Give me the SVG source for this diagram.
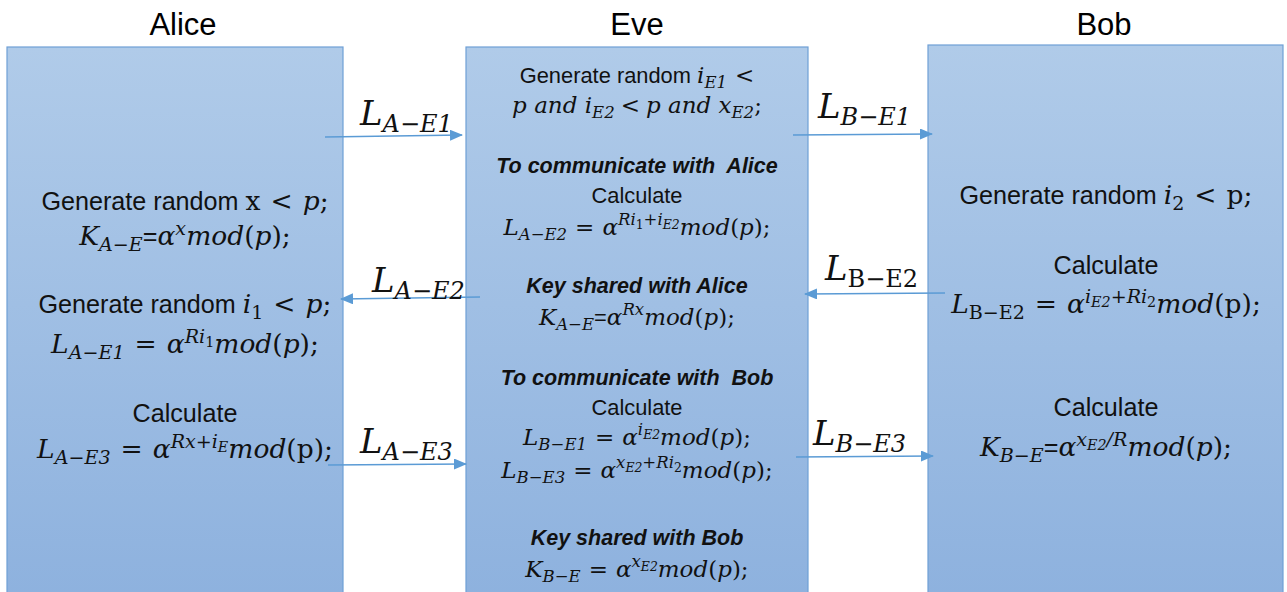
<svg xmlns="http://www.w3.org/2000/svg" width="1287" height="592" viewBox="0 0 1287 592">
<defs>
<linearGradient id="g" x1="0" y1="0" x2="0" y2="1">
<stop offset="0" stop-color="#b0cbe9"/>
<stop offset="1" stop-color="#8db1de"/>
</linearGradient>
<marker id="ah" markerUnits="userSpaceOnUse" markerWidth="13" markerHeight="11" refX="12" refY="5.5" orient="auto">
<path d="M0,0 L13,5.5 L0,11 Z" fill="#5b9bd5"/>
</marker>
<style>
.box{fill:url(#g);stroke:#6fa0d6;stroke-width:1.2}
.hd{font-family:"Liberation Sans",Arial,sans-serif;font-size:31px;fill:#000;text-anchor:middle}
.c{text-anchor:middle;fill:#111}
.big .c{font-size:26.5px}
.mid .c{font-size:23px}
.sn{font-family:"Liberation Sans",Arial,sans-serif;font-size:.95em;font-style:normal;font-weight:normal}
.bi{font-family:"Liberation Sans",Arial,sans-serif;font-style:italic;font-weight:bold}
.mid .bi{font-size:21.5px}
.r{font-family:"DejaVu Serif","Liberation Serif",serif;font-style:normal}
.i{font-family:"DejaVu Serif","Liberation Serif",serif;font-style:italic}
.sb{font-size:.72em}
.ss{font-size:.54em}
.lb{fill:#111}
.L{font-family:"DejaVu Serif","Liberation Serif",serif;font-size:34px;font-style:italic}
.Ls{font-family:"DejaVu Serif","Liberation Serif",serif;font-size:24px;font-style:italic}
.Lu{font-family:"DejaVu Serif","Liberation Serif",serif;font-size:24px;font-style:normal}
.cn{stroke:#5b9bd5;stroke-width:1.5;fill:none;marker-end:url(#ah)}
</style>
</defs>

<g id="alice" class="big">
<text class="hd" x="183" y="35">Alice</text>
<rect class="box" x="7" y="47" width="336" height="560"/>
<text class="c" x="185" y="210"><tspan class="sn">Generate random </tspan><tspan class="r">x</tspan><tspan class="r" dx="10">&lt;</tspan><tspan class="i" dx="10">p</tspan><tspan class="r">;</tspan></text>
<text class="c" x="185" y="245"><tspan class="i">K</tspan><tspan class="i sb" dy="6">A−E</tspan><tspan class="sn" dy="-6">=</tspan><tspan class="i">α</tspan><tspan class="i sb" dy="-10">x</tspan><tspan class="i" dy="10">mod</tspan><tspan class="r">(</tspan><tspan class="i">p</tspan><tspan class="r">);</tspan></text>
<text class="c" x="185" y="313"><tspan class="sn">Generate random </tspan><tspan class="i">i</tspan><tspan class="r sb" dy="6">1</tspan><tspan class="r" dx="10" dy="-6">&lt;</tspan><tspan class="i" dx="10">p</tspan><tspan class="r">;</tspan></text>
<text class="c" x="185" y="353"><tspan class="i">L</tspan><tspan class="i sb" dy="6">A−E1</tspan><tspan class="r" dx="10" dy="-6">=</tspan><tspan class="i" dx="10">α</tspan><tspan class="i sb" dy="-10">Ri</tspan><tspan class="r ss" dy="4">1</tspan><tspan class="i" dy="6">mod</tspan><tspan class="r">(</tspan><tspan class="i">p</tspan><tspan class="r">);</tspan></text>
<text class="c" x="185" y="422"><tspan class="sn">Calculate</tspan></text>
<text class="c" x="185" y="458"><tspan class="i">L</tspan><tspan class="i sb" dy="6">A−E3</tspan><tspan class="r" dx="10" dy="-6">=</tspan><tspan class="i" dx="10">α</tspan><tspan class="i sb" dy="-10">Rx+i</tspan><tspan class="i ss" dy="4">E</tspan><tspan class="i" dy="6">mod</tspan><tspan class="r">(p);</tspan></text>
</g>

<g id="eve" class="mid">
<text class="hd" x="637" y="35">Eve</text>
<rect class="box" x="466" y="47" width="342" height="560"/>
<text class="c" x="637" y="83"><tspan class="sn">Generate random </tspan><tspan class="i">i</tspan><tspan class="i sb" dy="5">E1</tspan><tspan class="r" dx="8" dy="-5">&lt;</tspan></text>
<text class="c" x="637" y="113"><tspan class="i">p and i</tspan><tspan class="i sb" dy="5">E2</tspan><tspan class="r" dx="6" dy="-5">&lt;</tspan><tspan class="i" dx="6">p and x</tspan><tspan class="i sb" dy="5">E2</tspan><tspan class="r" dy="-5">;</tspan></text>
<text class="c bi" x="637" y="173" xml:space="preserve">To communicate with  Alice</text>
<text class="c" x="637" y="203"><tspan class="sn">Calculate</tspan></text>
<text class="c" x="637" y="235"><tspan class="i">L</tspan><tspan class="i sb" dy="5">A−E2</tspan><tspan class="r" dx="8" dy="-5">=</tspan><tspan class="i" dx="8">α</tspan><tspan class="i sb" dy="-10">Ri</tspan><tspan class="r ss" dy="4">1</tspan><tspan class="i sb" dy="-4">+i</tspan><tspan class="i ss" dy="4">E2</tspan><tspan class="i" dy="6">mod</tspan><tspan class="r">(</tspan><tspan class="i">p</tspan><tspan class="r">);</tspan></text>
<text class="c bi" x="637" y="293">Key shared with Alice</text>
<text class="c" x="637" y="325"><tspan class="i">K</tspan><tspan class="i sb" dy="5">A−E</tspan><tspan class="sn" dy="-5">=</tspan><tspan class="i">α</tspan><tspan class="i sb" dy="-10">Rx</tspan><tspan class="i" dy="10">mod</tspan><tspan class="r">(</tspan><tspan class="i">p</tspan><tspan class="r">);</tspan></text>
<text class="c bi" x="637" y="385" xml:space="preserve">To communicate with  Bob</text>
<text class="c" x="637" y="415"><tspan class="sn">Calculate</tspan></text>
<text class="c" x="637" y="445"><tspan class="i">L</tspan><tspan class="i sb" dy="5">B−E1</tspan><tspan class="r" dx="8" dy="-5">=</tspan><tspan class="i" dx="8">α</tspan><tspan class="i sb" dy="-10">i</tspan><tspan class="i ss" dy="4">E2</tspan><tspan class="i" dy="6">mod</tspan><tspan class="r">(</tspan><tspan class="i">p</tspan><tspan class="r">);</tspan></text>
<text class="c" x="637" y="478"><tspan class="i">L</tspan><tspan class="i sb" dy="5">B−E3</tspan><tspan class="r" dx="8" dy="-5">=</tspan><tspan class="i" dx="8">α</tspan><tspan class="i sb" dy="-10">x</tspan><tspan class="i ss" dy="4">E2</tspan><tspan class="i sb" dy="-4">+Ri</tspan><tspan class="r ss" dy="4">2</tspan><tspan class="i" dy="6">mod</tspan><tspan class="r">(</tspan><tspan class="i">p</tspan><tspan class="r">);</tspan></text>
<text class="c bi" x="637" y="545">Key shared with Bob</text>
<text class="c" x="637" y="577"><tspan class="i">K</tspan><tspan class="i sb" dy="5">B−E</tspan><tspan class="r" dx="8" dy="-5">=</tspan><tspan class="i" dx="8">α</tspan><tspan class="i sb" dy="-10">x</tspan><tspan class="i ss" dy="4">E2</tspan><tspan class="i" dy="6">mod</tspan><tspan class="r">(</tspan><tspan class="i">p</tspan><tspan class="r">);</tspan></text>
</g>

<g id="bob" class="big">
<text class="hd" x="1104" y="35">Bob</text>
<rect class="box" x="928" y="45" width="355" height="562"/>
<text class="c" x="1106" y="204"><tspan class="sn">Generate random </tspan><tspan class="i">i</tspan><tspan class="r sb" dy="6">2</tspan><tspan class="r" dx="10" dy="-6">&lt;</tspan><tspan class="r" dx="10">p;</tspan></text>
<text class="c" x="1106" y="274"><tspan class="sn">Calculate</tspan></text>
<text class="c" x="1106" y="313"><tspan class="i">L</tspan><tspan class="r sb" dy="6">B−E2</tspan><tspan class="r" dx="10" dy="-6">=</tspan><tspan class="i" dx="10">α</tspan><tspan class="i sb" dy="-10">i</tspan><tspan class="i ss" dy="4">E2</tspan><tspan class="i sb" dy="-4">+Ri</tspan><tspan class="r ss" dy="4">2</tspan><tspan class="i" dy="6">mod</tspan><tspan class="r">(p);</tspan></text>
<text class="c" x="1106" y="416"><tspan class="sn">Calculate</tspan></text>
<text class="c" x="1106" y="456"><tspan class="i">K</tspan><tspan class="i sb" dy="6">B−E</tspan><tspan class="sn" dy="-6">=</tspan><tspan class="i">α</tspan><tspan class="i sb" dy="-10">x</tspan><tspan class="i ss" dy="4">E2</tspan><tspan class="i sb" dy="-4">/R</tspan><tspan class="i" dy="10">mod</tspan><tspan class="r">(</tspan><tspan class="i">p</tspan><tspan class="r">);</tspan></text>
</g>

<g id="connectors">
<line class="cn" x1="325" y1="137" x2="462" y2="135"/>
<line class="cn" x1="480" y1="297" x2="341" y2="299"/>
<line class="cn" x1="328" y1="465" x2="466" y2="464"/>
<line class="cn" x1="793" y1="135" x2="932" y2="134"/>
<line class="cn" x1="945" y1="293" x2="805" y2="294"/>
<line class="cn" x1="796" y1="457" x2="933" y2="456"/>
<text class="lb" x="360" y="125"><tspan class="L">L</tspan><tspan class="Ls" dy="7">A−E1</tspan></text>
<text class="lb" x="372" y="292"><tspan class="L">L</tspan><tspan class="Ls" dy="7">A−E2</tspan></text>
<text class="lb" x="360" y="453"><tspan class="L">L</tspan><tspan class="Ls" dy="7">A−E3</tspan></text>
<text class="lb" x="818" y="118"><tspan class="L">L</tspan><tspan class="Ls" dy="7">B−E1</tspan></text>
<text class="lb" x="825" y="280"><tspan class="L">L</tspan><tspan class="Lu" dy="7">B−E2</tspan></text>
<text class="lb" x="813" y="445"><tspan class="L">L</tspan><tspan class="Ls" dy="7">B−E3</tspan></text>
</g>
</svg>
